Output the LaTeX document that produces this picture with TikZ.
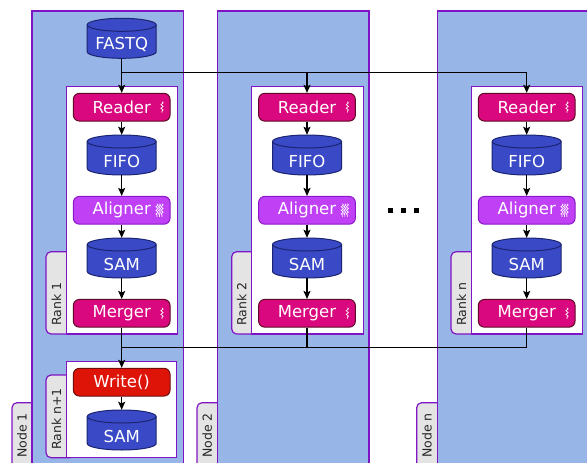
\documentclass[tikz,border=0pt]{standalone}
\usepackage{fontspec}
\setmainfont{DejaVu Sans}
\usetikzlibrary{arrows.meta,decorations.pathmorphing,calc}

\definecolor{nodebg}{HTML}{98B5E7}
\definecolor{frame}{HTML}{7F14C4}
\definecolor{tabbg}{HTML}{E4E4E4}
\definecolor{cylfill}{HTML}{3A4AC6}
\definecolor{cylline}{HTML}{1B2470}
\definecolor{magfill}{HTML}{D9087F}
\definecolor{magline}{HTML}{5E0A24}
\definecolor{alfill}{HTML}{C040F5}
\definecolor{alline}{HTML}{8A18C8}
\definecolor{wrfill}{HTML}{DF1408}
\definecolor{wrline}{HTML}{6E0E0E}

\tikzset{
  nodearea/.style={draw=frame, fill=nodebg, line width=1.4pt},
  tabshape/.style={draw=frame, fill=tabbg, line width=1.2pt, rounded corners=5pt},
  rankbox/.style={draw=frame, fill=white, line width=1.4pt},
  proc/.style={rounded corners=6pt, minimum width=96.7pt, minimum height=27.7pt, inner sep=0pt,
    text=white, font=\fontsize{16.5}{19}\selectfont, line width=1pt},
  reader/.style={proc, fill=magfill, draw=magline},
  aligner/.style={proc, fill=alfill, draw=alline},
  writer/.style={proc, fill=wrfill, draw=wrline},
  dbbox/.style={minimum width=69pt, minimum height=40pt, inner sep=0pt},
  dbtext/.style={text=white, font=\fontsize{16.5}{19}\selectfont, inner sep=0pt},
  conn/.style={line width=1.2pt, black},
  arr/.style={conn, -{Stealth[length=8pt,width=7pt,inset=1.5pt]}},
  tablabel/.style={rotate=90, anchor=west, inner sep=0pt, text=black!85,
    font=\fontsize{12.5}{15}\selectfont},
  wig/.style={white, line width=0.7pt, decorate,
    decoration={snake, amplitude=1.1pt, segment length=3.6pt}},
}

\newcommand\dbcyl[4]{%
  \node[dbbox] (#1) at (#2,#3) {};
  \filldraw[fill=cylfill, draw=cylline, line width=1pt]
    (#2-34.5,#3-13.5) -- (#2-34.5,#3+13.5)
    arc[start angle=180, end angle=0, x radius=34.5, y radius=6.5]
    -- (#2+34.5,#3-13.5)
    arc[start angle=0, end angle=-180, x radius=34.5, y radius=6.5] -- cycle;
  \draw[cylline, line width=1pt] (#2-34.5,#3-13.5)
    arc[start angle=180, end angle=0, x radius=34.5, y radius=6.5];
  \node[dbtext] (#1-t) at (#2,#3+6) {#4};
}

\begin{document}
\begin{tikzpicture}[x=1pt, y=-1pt]
\useasboundingbox (0,0) rectangle (587,463);
\clip (0,0) rectangle (587,463);

% node areas with tabs
\path[tabshape] (40,402.7) -- (12,402.7) -- (12,490) -- (40,490) -- cycle;
\path[tabshape] (225,402.7) -- (197,402.7) -- (197,490) -- (225,490) -- cycle;
\path[tabshape] (445,402.7) -- (416.7,402.7) -- (416.7,490) -- (445,490) -- cycle;
\path[nodearea] (32,11) rectangle (183.7,490);
\path[nodearea] (217.3,11) rectangle (369,490);
\path[nodearea] (437.3,11) rectangle (640,490);
\node[tablabel] (lbn1) at (22,458) {Node 1};
\node[tablabel] (lbn2) at (207.2,458) {Node 2};
\node[tablabel] (lbnn) at (427,458) {Node n};

% rank tabs and boxes
\path[tabshape] (75,251.7) -- (46,251.7) -- (46,334) -- (75,334) -- cycle;
\path[tabshape] (75,375) -- (46,375) -- (46,457.7) -- (75,457.7) -- cycle;
\path[tabshape] (260,251.7) -- (231.7,251.7) -- (231.7,334) -- (260,334) -- cycle;
\path[tabshape] (480,251.7) -- (451,251.7) -- (451,334) -- (480,334) -- cycle;
\path[rankbox] (66.7,86.7) rectangle (177.7,334);
\path[rankbox] (66.7,361.7) rectangle (176.7,457.7);
\path[rankbox] (251.7,86.7) rectangle (363.3,334);
\path[rankbox] (471.7,86.7) rectangle (582.7,334);
\node[tablabel] (lbr1) at (56.5,326) {Rank 1};
\node[tablabel] (lbrn1) at (56.5,450) {Rank n+1};
\node[tablabel] (lbr2) at (241.7,326) {Rank 2};
\node[tablabel] (lbrn) at (461.5,326) {Rank n};

% junction coordinates
\coordinate (top1) at (121.7,72.7);
\coordinate (top2) at (307,72.7);
\coordinate (topn) at (526.7,72.7);
\coordinate (bot1) at (121.7,347.3);
\coordinate (bot2) at (307,347.3);
\coordinate (botn) at (526.7,347.3);

% column 1
\dbcyl{fastq}{121.7}{38.3}{FASTQ}
\node[reader] (rd1) at (121.7,107.2) {Reader};
\dbcyl{fifo1}{121.7}{155}{FIFO}
\node[aligner] (al1) at (121.7,210.3) {Aligner};
\dbcyl{sam1}{121.7}{258}{SAM}
\node[reader] (mg1) at (121.7,313.3) {Merger};
\node[writer] (wr) at (121.7,382.2) {Write()};
\dbcyl{samout}{121.7}{430}{SAM}

% column 2
\node[reader] (rd2) at (307,107.2) {Reader};
\dbcyl{fifo2}{307}{155}{FIFO}
\node[aligner] (al2) at (307,210.3) {Aligner};
\dbcyl{sam2}{307}{258}{SAM}
\node[reader] (mg2) at (307,313.3) {Merger};

% column n
\node[reader] (rdn) at (526.7,107.2) {Reader};
\dbcyl{fifon}{526.7}{155}{FIFO}
\node[aligner] (aln) at (526.7,210.3) {Aligner};
\dbcyl{samn}{526.7}{258}{SAM}
\node[reader] (mgn) at (526.7,313.3) {Merger};

% thread squiggles
\foreach \n in {rd1,mg1,rd2,mg2,rdn,mgn}{
  \draw[wig] (\n.east) ++(-8.5,-5.5) -- ++(0,11);
}
\foreach \n in {al1,al2,aln}{
  \foreach \dx in {-13.5,-11,-8.5}{
    \draw[wig] (\n.east) ++(\dx,-6.5) -- ++(0,13);
  }
}

% connectors
\draw[conn] (fastq.south) -- (top1);
\draw[conn] (top1) -- (topn);
\draw[arr] (top1) -- (rd1.north);
\draw[arr] (top2) -- (rd2.north);
\draw[arr] (topn) -- (rdn.north);
\foreach \c in {1,2,n}{
  \draw[arr] (rd\c.south) -- (fifo\c.north);
  \draw[arr] (fifo\c.south) -- (al\c.north);
  \draw[arr] (al\c.south) -- (sam\c.north);
  \draw[arr] (sam\c.south) -- (mg\c.north);
}
\draw[conn] (mgn.south) -- (botn) -- (bot1);
\draw[conn] (mg2.south) -- (bot2);
\draw[arr] (mg1.south) -- (wr.north);
\draw[arr] (wr.south) -- (samout.north);

% ellipsis
\fill (387.5,207.5) rectangle ++(5.5,5.5);
\fill (400.5,207.5) rectangle ++(5.5,5.5);
\fill (413.5,207.5) rectangle ++(5.5,5.5);
\end{tikzpicture}
\end{document}
